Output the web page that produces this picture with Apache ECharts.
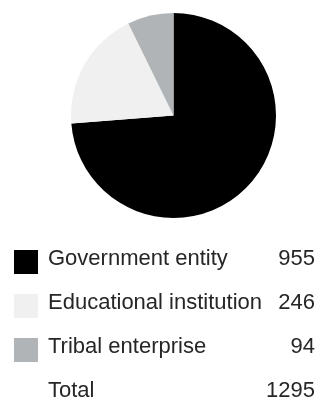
<!DOCTYPE html>
<html>
<head>
<meta charset="utf-8">
<script src="https://cdn.jsdelivr.net/npm/echarts@6/dist/echarts.min.js"></script>
<style>html,body{margin:0;padding:0;background:#fff;}#c{width:320px;height:405px;}</style>
</head>
<body>
<div id="c"></div>
<script>
var categories = ['Government entity', 'Educational institution', 'Tribal enterprise'];
var values = [955, 246, 94];
var colors = ['#000000', '#f0f0f0', '#b0b4b7'];
var totalLabel = 'Total';
var totalValue = 1295;

var chart = echarts.init(document.getElementById('c'), null, {renderer: 'canvas'});
var font = '22px "Liberation Sans", Arial, Helvetica, sans-serif';
var txt = '#262626';
var graphics = [];
var rowTop = 250, pitch = 44;
categories.forEach(function (name, i) {
  var y = rowTop + pitch * i;
  graphics.push({type: 'rect', shape: {x: 14, y: y, width: 24, height: 24}, style: {fill: colors[i]}});
  graphics.push({type: 'text', x: 48, y: y + 9, style: {text: name, font: font, fill: txt, textVerticalAlign: 'middle', textAlign: 'left'}});
  graphics.push({type: 'text', x: 315, y: y + 9, style: {text: String(values[i]), font: font, fill: txt, textVerticalAlign: 'middle', textAlign: 'right'}});
});
var ty = rowTop + pitch * 3;
graphics.push({type: 'text', x: 48, y: ty + 9, style: {text: totalLabel, font: font, fill: txt, textVerticalAlign: 'middle', textAlign: 'left'}});
graphics.push({type: 'text', x: 315, y: ty + 9, style: {text: String(totalValue), font: font, fill: txt, textVerticalAlign: 'middle', textAlign: 'right'}});

chart.setOption({
  animation: false,
  backgroundColor: '#ffffff',
  series: [{
    type: 'pie',
    center: [173.5, 115.5],
    radius: [0, 102.5],
    startAngle: 90,
    clockwise: true,
    label: {show: false},
    labelLine: {show: false},
    emphasis: {disabled: true},
    itemStyle: {borderWidth: 0},
    data: categories.map(function (n, i) { return {name: n, value: values[i], itemStyle: {color: colors[i]}}; })
  }],
  graphic: graphics
});
</script>
</body>
</html>
